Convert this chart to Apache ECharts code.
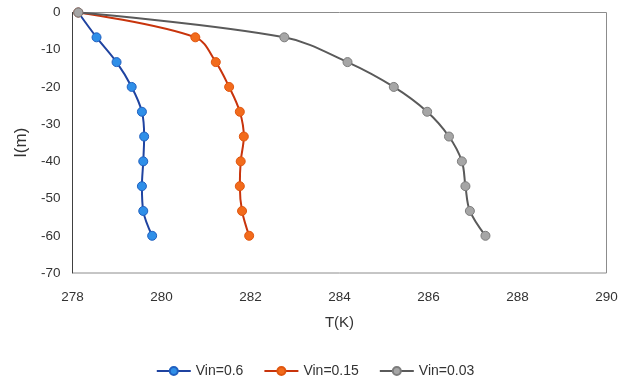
<!DOCTYPE html>
<html>
<head>
<meta charset="utf-8">
<script src="https://cdn.jsdelivr.net/npm/echarts@6/dist/echarts.min.js"></script>
<style>
  html, body { margin: 0; padding: 0; background: #fff; }
  #chart { width: 630px; height: 382px; }
</style>
</head>
<body>
<div id="chart"></div>
<script>
// Depth levels (m), shared by all three profiles
const depths = [0, -6.67, -13.33, -20, -26.67, -33.33, -40, -46.67, -53.33, -60];

// Temperature profiles T(K) for each inlet velocity
const tempVin06  = [278.13, 278.54, 278.99, 279.33, 279.56, 279.61, 279.59, 279.56, 279.59, 279.79];
const tempVin015 = [278.13, 280.76, 281.22, 281.52, 281.76, 281.85, 281.78, 281.76, 281.81, 281.97];
const tempVin003 = [278.13, 282.76, 284.18, 285.22, 285.97, 286.46, 286.75, 286.83, 286.93, 287.28];

const seriesNames = ['Vin=0.6', 'Vin=0.15', 'Vin=0.03'];

const FONT = 'Liberation Sans';
const TEXT = '#333333';

function pairs(temps) {
  return temps.map((t, i) => [t, depths[i]]);
}

function makeSeries(name, temps, lineColor, fillColor, borderColor) {
  return {
    name: name,
    type: 'line',
    data: pairs(temps),
    smooth: 0.35,
    symbol: 'circle',
    symbolSize: 9,
    showSymbol: true,
    lineStyle: { color: lineColor, width: 2 },
    itemStyle: { color: fillColor, borderColor: borderColor, borderWidth: 1 },
    emphasis: { disabled: true },
    z: 3
  };
}

const chart = echarts.init(document.getElementById('chart'), null, { renderer: 'canvas' });

chart.setOption({
  animation: false,
  backgroundColor: '#ffffff',
  grid: {
    left: 72.5, right: 23.5, top: 12.5, bottom: 109,
    show: true, borderColor: '#8c8c8c', borderWidth: 1, backgroundColor: 'transparent'
  },
  xAxis: {
    type: 'value',
    min: 278, max: 290, interval: 2,
    name: 'T(K)',
    nameLocation: 'middle',
    nameGap: 42,
    nameTextStyle: { fontFamily: FONT, fontSize: 15, color: TEXT },
    axisLine: { show: false },
    axisTick: { show: false },
    splitLine: { show: false },
    axisLabel: { fontFamily: FONT, fontSize: 13.5, color: TEXT, margin: 17 }
  },
  yAxis: {
    type: 'value',
    min: -70, max: 0, interval: 10,
    name: 'I(m)',
    nameLocation: 'middle',
    nameGap: 42,
    nameRotate: 90,
    nameTextStyle: { fontFamily: FONT, fontSize: 17, color: TEXT },
    axisLine: { show: true, onZero: false, lineStyle: { color: '#404040', width: 1 } },
    axisTick: { show: false },
    splitLine: { show: false },
    axisLabel: { fontFamily: FONT, fontSize: 13.5, color: TEXT, margin: 12 }
  },
  legend: {
    top: 359,
    left: 'center',
    itemWidth: 34,
    itemHeight: 10,
    itemGap: 20,
    textStyle: { fontFamily: FONT, fontSize: 14, color: TEXT },
    data: seriesNames
  },
  series: [
    makeSeries(seriesNames[0], tempVin06,  '#1f43a0', '#2f8fe8', '#2060c0'),
    makeSeries(seriesNames[1], tempVin015, '#c8340c', '#f26b1c', '#e0560f'),
    makeSeries(seriesNames[2], tempVin003, '#5a5a5a', '#a6a6a6', '#7c7c7c')
  ]
});
</script>
</body>
</html>
